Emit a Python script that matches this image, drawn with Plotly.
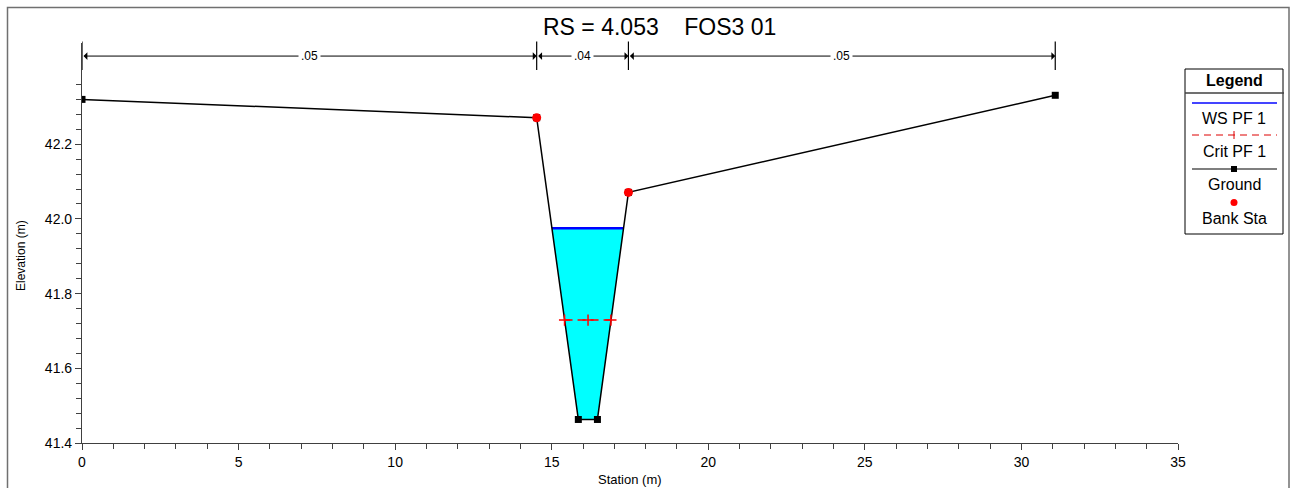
import numpy as np
import plotly.graph_objects as go

# ---------------- data ----------------
ground_sta = [0.0, 14.52, 15.85, 16.46, 17.45, 31.08]
ground_elev = [42.32, 42.271, 41.463, 41.463, 42.071, 42.331]
bank_sta = [14.52, 17.45]
bank_elev = [42.271, 42.071]
ws_elev = 41.975
crit_elev = 41.729
crit_sta = [15.41, 16.16, 16.89]
mann_sta = [0.0, 14.52, 17.45, 31.08]
mann_n = [".05", ".04", ".05"]
title_text = "RS = 4.053\u00a0\u00a0\u00a0\u00a0FOS3 01"
x_range = [0, 35]
y_range = [41.4, 42.471]
y_major = [41.4, 41.6, 41.8, 42.0, 42.2]
y_minor = [round(41.4 + 0.04 * i, 2) for i in range(25)]
mann_y = 42.436

W, H = 1295, 488
ML, MR, MT, MB = 82, 117, 43, 45
PW, PH = W - ML - MR, H - MT - MB


def px(x):
    return (x - ML) / PW


def py(y):
    return (H - MB - y) / PH


# water polygon: ground clipped below water surface
g_s = np.array(ground_sta)
g_e = np.array(ground_elev)
imin = int(np.argmin(g_e))
left_s = float(np.interp(ws_elev, g_e[:imin + 1][::-1], g_s[:imin + 1][::-1]))
right_s = float(np.interp(ws_elev, g_e[imin + 1:], g_s[imin + 1:]))
inner = [(s, e) for s, e in zip(ground_sta, ground_elev) if e < ws_elev and left_s < s < right_s]
poly_s = [left_s] + [s for s, _ in inner] + [right_s]
poly_e = [ws_elev] + [e for _, e in inner] + [ws_elev]

fig = go.Figure()
fig.add_trace(go.Scatter(x=poly_s + [poly_s[0]], y=poly_e + [poly_e[0]], fill="toself",
                         fillcolor="#00FFFF", line=dict(width=0), mode="lines",
                         hoverinfo="skip", showlegend=False))
fig.add_trace(go.Scatter(x=[left_s, right_s], y=[ws_elev, ws_elev], mode="lines",
                         line=dict(color="#0000FF", width=2.5), name="WS PF 1", showlegend=False))
fig.add_trace(go.Scatter(x=ground_sta, y=ground_elev, mode="lines+markers",
                         line=dict(color="black", width=1.5),
                         marker=dict(symbol="square", size=7, color="black"),
                         name="Ground", showlegend=False))
fig.add_trace(go.Scatter(x=crit_sta, y=[crit_elev] * len(crit_sta), mode="lines+markers",
                         line=dict(color="#FF0000", width=1.5, dash="8px,5px"),
                         marker=dict(symbol="cross-thin", size=8, color="#FF0000",
                                     line=dict(color="#FF0000", width=1.5)),
                         name="Crit PF 1", showlegend=False))
fig.add_trace(go.Scatter(x=bank_sta, y=bank_elev, mode="markers",
                         marker=dict(symbol="circle", size=9, color="#FF0000"),
                         name="Bank Sta", showlegend=False))

shapes = []
annotations = []

# Manning's n segments
for s in mann_sta:
    shapes.append(dict(type="line", xref="x", yref="paper", x0=s, x1=s,
                       y0=py(70), y1=py(41.5), line=dict(color="black", width=1.2)))
for i, n in enumerate(mann_n):
    a, b = mann_sta[i], mann_sta[i + 1]
    annotations.append(dict(x=b, y=mann_y, ax=a, ay=mann_y, xref="x", yref="y",
                            axref="x", ayref="y", text="", showarrow=True,
                            arrowside="end+start", arrowhead=1, arrowsize=1.3,
                            arrowwidth=1, arrowcolor="black"))
    annotations.append(dict(x=(a + b) / 2, y=mann_y, xref="x", yref="y", text=n,
                            showarrow=False, bgcolor="white", borderpad=2,
                            font=dict(family="Liberation Sans Narrow, Liberation Sans, Arial", size=12, color="black")))

# outer frame
shapes.append(dict(type="rect", xref="paper", yref="paper", x0=px(7.5), x1=px(1289),
                   y0=py(495), y1=py(7.5), line=dict(color="#707070", width=1.5)))

# title
annotations.append(dict(x=px(659), y=py(27), xref="paper", yref="paper", text=title_text,
                        showarrow=False, xanchor="center", yanchor="middle",
                        font=dict(family="Liberation Sans, Arial", size=23, color="black")))
# axis titles
annotations.append(dict(x=px(21), y=py(256), xref="paper", yref="paper", text="Elevation (m)",
                        showarrow=False, textangle=-90, xanchor="center", yanchor="middle",
                        font=dict(family="Liberation Sans, Arial", size=12, color="black")))
annotations.append(dict(x=px(630), y=py(479), xref="paper", yref="paper", text="Station (m)",
                        showarrow=False, xanchor="center", yanchor="middle",
                        font=dict(family="Liberation Sans Narrow, Liberation Sans, Arial", size=13, color="black")))

# legend box (drawn by hand)
LX0, LX1, LY0, LY1 = 1185, 1283, 69, 234
lcx = (LX0 + LX1) / 2
shapes.append(dict(type="rect", xref="paper", yref="paper", x0=px(LX0), x1=px(LX1),
                   y0=py(LY1), y1=py(LY0), line=dict(color="black", width=1), fillcolor="white"))
shapes.append(dict(type="line", xref="paper", yref="paper", x0=px(LX0), x1=px(LX1 + 1),
                   y0=py(93), y1=py(93), line=dict(color="#404040", width=1.3)))
lf = dict(family="Liberation Sans, Arial", size=16, color="black")
annotations.append(dict(x=px(lcx), y=py(80), xref="paper", yref="paper", text="<b>Legend</b>",
                        showarrow=False, xanchor="center", yanchor="middle", font=lf))
# WS
shapes.append(dict(type="line", xref="paper", yref="paper", x0=px(1192), x1=px(1277),
                   y0=py(103), y1=py(103), line=dict(color="#4444FF", width=2)))
annotations.append(dict(x=px(lcx), y=py(118), xref="paper", yref="paper", text="WS PF 1",
                        showarrow=False, xanchor="center", yanchor="middle", font=lf))
# Crit
shapes.append(dict(type="line", xref="paper", yref="paper", x0=px(1192), x1=px(1277),
                   y0=py(135), y1=py(135), line=dict(color="#DD0000", width=1, dash="7px,5px")))
shapes.append(dict(type="line", xref="paper", yref="paper", x0=px(lcx), x1=px(lcx),
                   y0=py(131), y1=py(139), line=dict(color="#DD0000", width=1)))
annotations.append(dict(x=px(lcx), y=py(151), xref="paper", yref="paper", text="Crit PF 1",
                        showarrow=False, xanchor="center", yanchor="middle", font=lf))
# Ground
shapes.append(dict(type="line", xref="paper", yref="paper", x0=px(1192), x1=px(1277),
                   y0=py(169), y1=py(169), line=dict(color="black", width=1.2)))
shapes.append(dict(type="rect", xref="paper", yref="paper", x0=px(lcx - 3), x1=px(lcx + 3),
                   y0=py(172), y1=py(166), line=dict(color="black", width=0), fillcolor="black"))
annotations.append(dict(x=px(lcx), y=py(184), xref="paper", yref="paper", text="Ground",
                        showarrow=False, xanchor="center", yanchor="middle", font=lf))
# Bank Sta
shapes.append(dict(type="circle", xref="paper", yref="paper", x0=px(lcx - 3.5), x1=px(lcx + 3.5),
                   y0=py(206), y1=py(199), line=dict(color="#FF0000", width=0), fillcolor="#FF0000"))
annotations.append(dict(x=px(lcx), y=py(218), xref="paper", yref="paper", text="Bank Sta",
                        showarrow=False, xanchor="center", yanchor="middle", font=lf))

tick_font = dict(family="Liberation Sans Narrow, Arial Narrow, Liberation Sans", size=14, color="black")
fig.update_layout(
    width=W, height=H,
    margin=dict(l=ML, r=MR, t=MT, b=MB, pad=0),
    paper_bgcolor="white", plot_bgcolor="white",
    showlegend=False,
    shapes=shapes, annotations=annotations,
    xaxis=dict(range=x_range, tick0=0, dtick=5, ticks="outside", ticklen=6, tickcolor="#404040",
               showline=True, linecolor="#404040", linewidth=1.2, showgrid=False, zeroline=False,
               tickfont=tick_font,
               minor=dict(dtick=1, ticks="outside", ticklen=5, tickcolor="#404040", showgrid=False)),
    yaxis=dict(range=y_range, tickmode="array", tickvals=y_major, tickformat=".1f", ticks="outside",
               ticklen=6, tickcolor="#404040", showline=True, linecolor="#404040", linewidth=1.2,
               showgrid=False, zeroline=False, tickfont=tick_font,
               minor=dict(tickmode="array", tickvals=y_minor, ticks="outside", ticklen=5,
                          tickcolor="#404040", showgrid=False)),
)

fig.write_html("out.html", config={"displayModeBar": False},
               post_script="document.body.style.margin='0';document.body.style.overflow='hidden';")
